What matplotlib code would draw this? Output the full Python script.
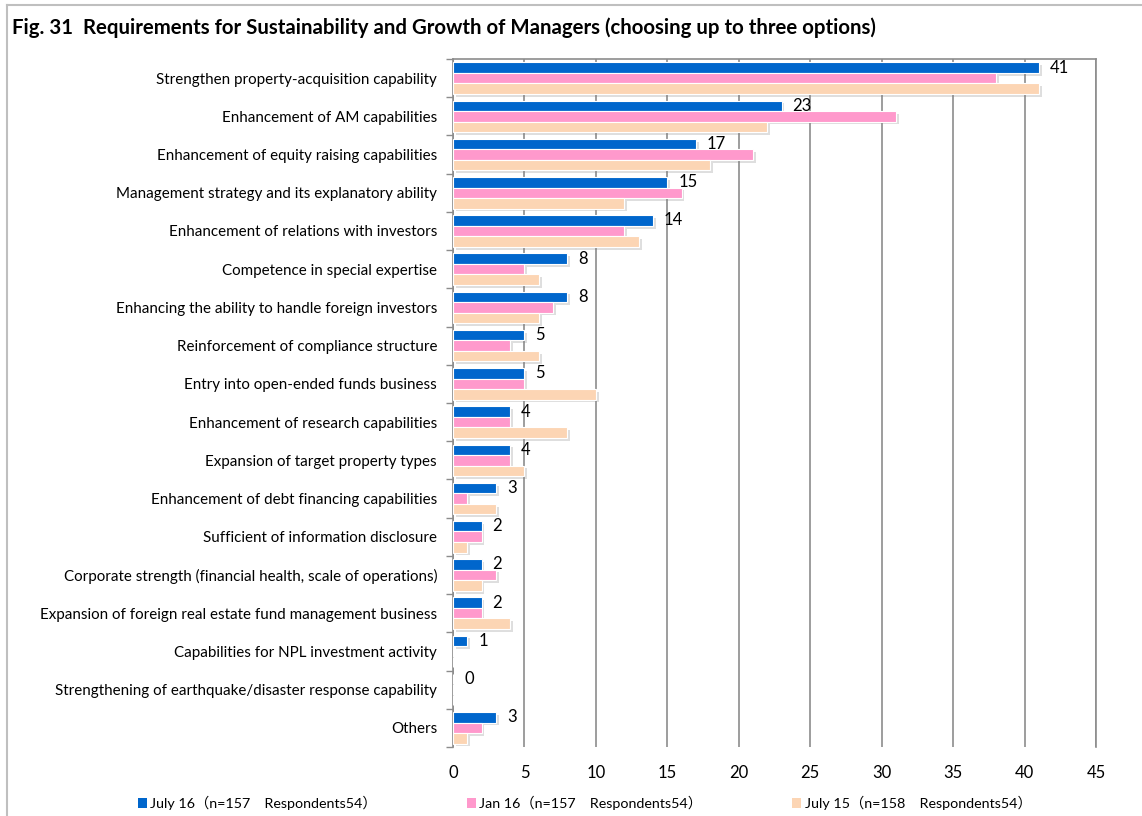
import matplotlib
matplotlib.use("Agg")
import matplotlib.pyplot as plt
import matplotlib.patches as patches
import matplotlib.patheffects as pe
from matplotlib.lines import Line2D
import numpy as np

plt.rcParams['font.family'] = ['Lato', 'Noto Sans CJK JP', 'DejaVu Sans']

categories = [
    "Strengthen property-acquisition capability",
    "Enhancement of AM capabilities",
    "Enhancement of equity raising capabilities",
    "Management strategy and its explanatory ability",
    "Enhancement of relations with investors",
    "Competence in special expertise",
    "Enhancing the ability to handle foreign investors",
    "Reinforcement of compliance structure",
    "Entry into open-ended funds business",
    "Enhancement of research capabilities",
    "Expansion of target property types",
    "Enhancement of debt financing capabilities",
    "Sufficient of information disclosure",
    "Corporate strength (financial health, scale of operations)",
    "Expansion of foreign real estate fund management business",
    "Capabilities for NPL investment activity",
    "Strengthening of earthquake/disaster response capability",
    "Others",
]
july16 = [41, 23, 17, 15, 14, 8, 8, 5, 5, 4, 4, 3, 2, 2, 2, 1, 0, 3]
jan16 = [38, 31, 21, 16, 12, 5, 7, 4, 5, 4, 4, 1, 2, 3, 2, 0, 0, 2]
july15 = [41, 22, 18, 12, 13, 6, 6, 6, 10, 8, 5, 3, 1, 2, 4, 0, 0, 1]
series_names = [
    "July 16（n=157　Respondents54）",
    "Jan 16（n=157　Respondents54）",
    "July 15（n=158　Respondents54）",
]
x_ticks = [0, 5, 10, 15, 20, 25, 30, 35, 40, 45]

colors = ['#0066CC', '#FF99CC', '#FCD5B4']
grid_color = '#8C8C8C'

fig = plt.figure(figsize=(11.42, 8.16), dpi=100)
ax = fig.add_axes([0.3967, 0.0846, 0.9597 - 0.3967, 0.9277 - 0.0846])

y = np.arange(len(categories))
step = 0.275
shadow = [pe.SimplePatchShadow(offset=(2, -2), shadow_rgbFace='#7F7F7F', alpha=0.25), pe.Normal()]
for k, (vals, col, name) in enumerate(zip([july16, jan16, july15], colors, series_names)):
    bars = ax.barh(y + (k - 1) * step, vals, height=step, color=col,
                   edgecolor='white', linewidth=0.8, label=name, zorder=3)
    for b in bars:
        if b.get_width() > 0:
            b.set_path_effects(shadow)

# value labels only for the latest survey
for yi, v in zip(y, july16):
    ax.annotate(f"{v}", (v, yi - step), xytext=(11, 0), textcoords='offset pixels',
                ha='left', va='center', fontsize=12, color='black', zorder=4)

ax.set_xlim(0, 45)
ax.set_ylim(len(categories) - 0.5, -0.5)
ax.set_xticks(x_ticks)
ax.set_xticklabels([str(t) for t in x_ticks], fontsize=12)
ax.set_yticks(y)
ax.set_yticklabels(categories, fontsize=10.9)
ax.tick_params(axis='y', length=0, pad=11.5)
ax.tick_params(axis='x', length=0, pad=13)
ax.set_yticks(np.arange(len(categories) + 1) - 0.5, minor=True)
ax.tick_params(axis='y', which='minor', length=5, direction='out', color=grid_color, width=1)

ax.grid(axis='x', color=grid_color, linewidth=1.2, zorder=0)
ax.set_axisbelow(True)
for side in ['top', 'right', 'left']:
    ax.spines[side].set_color(grid_color)
    ax.spines[side].set_linewidth(1.2)
ax.spines['bottom'].set_visible(False)

fig.text(0.0105, 0.966, "Fig. 31  Requirements for Sustainability and Growth of Managers (choosing up to three options)",
         fontsize=14.7, fontweight='bold', ha='left', va='center')

# outer frame of the chart object
fig.add_artist(Line2D([0.0061, 1.0], [0.9939, 0.9939], color='#BFBFBF', linewidth=1.5))
fig.add_artist(Line2D([0.0061, 0.0061], [0.0, 0.9939], color='#BFBFBF', linewidth=1.5))

handles = [patches.Patch(facecolor=c, edgecolor='none') for c in colors]
fig.legend(handles, series_names, loc='center', bbox_to_anchor=(0.512, 0.016), ncol=3,
           frameon=False, fontsize=10.3, handlelength=0.6, handleheight=0.7,
           handletextpad=0.25, columnspacing=6.3)

fig.savefig("out.png", dpi=100)
